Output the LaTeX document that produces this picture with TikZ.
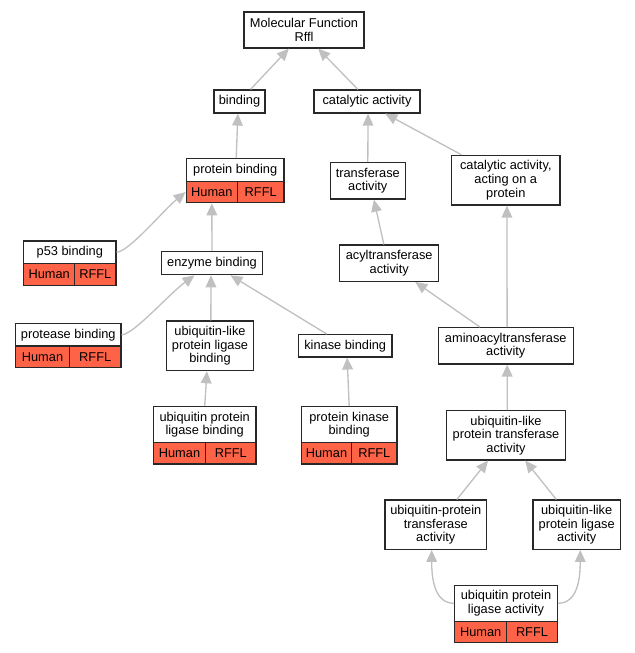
\documentclass[tikz,border=0pt]{standalone}
\usepackage{fontspec}
\setmainfont{Liberation Sans}
\usetikzlibrary{arrows.meta,calc}
\definecolor{edgegray}{RGB}{192,192,192}
\definecolor{cellred}{RGB}{255,99,71}
\definecolor{boxline}{RGB}{40,40,40}
\begin{document}
\begin{tikzpicture}[x=0.75pt,y=-0.75pt,
  bx/.style 2 args={draw=boxline, line width=0.9pt, fill=white, inner sep=0pt, align=center,
    minimum width=#1*0.75pt, minimum height=#2*0.75pt, font=\fontsize{9.6}{10.2}\selectfont},
  cell/.style 2 args={bx={#1}{#2}, fill=cellred},
  edge/.style={draw=edgegray, line width=1pt, -{Triangle[length=9pt,width=8pt]}}]
\useasboundingbox (0,0) rectangle (635,653);
% nodes
\node[bx={120}{36}] (mf) at (304,30) {Molecular Function\\Rffl};
\node[bx={51}{23}] (bind) at (239.5,101.5) {binding};
\node[bx={106}{23}] (cat) at (367,101.5) {catalytic activity};
\node[bx={97.7}{22.6}] (pb) at (235.2,170) {protein binding};
\node[cell={51}{21.4}] (pbh) at (211.8,192) {Human};
\node[cell={46.7}{21.4}] (pbr) at (260.7,192) {RFFL};
\node[bx={75}{36.7}] (tr) at (367.8,180.7) {transferase\\activity};
\node[bx={108.3}{49.7}] (cap) at (505.8,180.2) {catalytic activity,\\acting on a\\protein};
\node[bx={92.3}{22.3}] (p53) at (69.8,252.2) {p53 binding};
\node[cell={51}{22}] (p53h) at (49.2,274.3) {Human};
\node[cell={41.3}{22}] (p53r) at (95.3,274.3) {RFFL};
\node[bx={101.4}{23}] (enz) at (212,263.2) {enzyme binding};
\node[bx={99}{36.3}] (acyl) at (389.2,263.2) {acyltransferase\\activity};
\node[bx={105.3}{22.3}] (prot) at (68.3,334.8) {protease binding};
\node[cell={53.6}{21.7}] (proth) at (42.5,356.8) {Human};
\node[cell={51.7}{21.7}] (protr) at (95.2,356.8) {RFFL};
\node[bx={86.6}{49.7}] (ublb) at (210,345.8) {ubiquitin-like\\protein ligase\\binding};
\node[bx={93.7}{22.3}] (kin) at (345.2,345.8) {kinase binding};
\node[bx={102.7}{35.6}] (uplb) at (204.7,424.5) {ubiquitin protein\\ligase binding};
\node[cell={52.4}{21.7}] (uplbh) at (179.5,453.2) {Human};
\node[cell={50.3}{21.7}] (uplbr) at (230.8,453.2) {RFFL};
\node[bx={95.7}{35.6}] (pkb) at (349.2,424.5) {protein kinase\\binding};
\node[cell={50.4}{21.7}] (pkbh) at (326.5,453.2) {Human};
\node[cell={45.3}{21.7}] (pkbr) at (374.3,453.2) {RFFL};
\node[bx={135}{36.3}] (amino) at (505.8,345.8) {aminoacyltransferase\\activity};
\node[bx={118.6}{49.3}] (ublt) at (506,435.3) {ubiquitin-like\\protein transferase\\activity};
\node[bx={101.7}{49.3}] (upt) at (435.8,524.7) {ubiquitin-protein\\transferase\\activity};
\node[bx={87.3}{49.3}] (ubla) at (576.7,524.7) {ubiquitin-like\\protein ligase\\activity};
\node[bx={102.6}{36}] (upla) at (506,603.3) {ubiquitin protein\\ligase activity};
\node[cell={52}{21.4}] (uplah) at (480.7,632) {Human};
\node[cell={50.6}{21.4}] (uplar) at (532,632) {RFFL};
% edges
\draw[edge] ($(bind.north west)!0.71!(bind.north east)$) -- ($(mf.south west)!0.375!(mf.south east)$);
\draw[edge] ($(cat.north west)!0.415!(cat.north east)$) -- ($(mf.south west)!0.617!(mf.south east)$);
\draw[edge] ($(pb.north west)!0.51!(pb.north east)$) -- ($(bind.south west)!0.47!(bind.south east)$);
\draw[edge] ($(tr.north west)!0.5!(tr.north east)$) -- ($(cat.south west)!0.51!(cat.south east)$);
\draw[edge] ($(cap.north west)!0.095!(cap.north east)$) -- ($(cat.south west)!0.67!(cat.south east)$);
\draw[edge] (p53.east) .. controls +(12,0) and +(-22,18) .. (pbh.west);
\draw[edge] (enz.north) -- (pbh.south);
\draw[edge] (prot.east) .. controls +(12,0) and +(-26,19) .. ($(enz.south west)!0.33!(enz.south east)$);
\draw[edge] ($(ublb.north west)!0.51!(ublb.north east)$) -- ($(enz.south west)!0.49!(enz.south east)$);
\draw[edge] ($(kin.north west)!0.306!(kin.north east)$) -- ($(enz.south west)!0.68!(enz.south east)$);
\draw[edge] ($(uplb.north west)!0.5!(uplb.north east)$) -- ($(ublb.south west)!0.465!(ublb.south east)$);
\draw[edge] ($(pkb.north west)!0.5!(pkb.north east)$) -- ($(kin.south west)!0.52!(kin.south east)$);
\draw[edge] ($(acyl.north west)!0.447!(acyl.north east)$) -- ($(tr.south west)!0.58!(tr.south east)$);
\draw[edge] ($(amino.north west)!0.31!(amino.north east)$) -- ($(acyl.south west)!0.76!(acyl.south east)$);
\draw[edge] ($(amino.north west)!0.51!(amino.north east)$) -- ($(cap.south west)!0.51!(cap.south east)$);
\draw[edge] ($(ublt.north west)!0.51!(ublt.north east)$) -- ($(amino.south west)!0.51!(amino.south east)$);
\draw[edge] ($(upt.north west)!0.705!(upt.north east)$) -- ($(ublt.south west)!0.35!(ublt.south east)$);
\draw[edge] ($(ubla.north west)!0.27!(ubla.north east)$) -- ($(ublt.south west)!0.66!(ublt.south east)$);
\draw[edge] (upla.west) .. controls +(-20,0) and +(0,28) .. ($(upt.south west)!0.46!(upt.south east)$);
\draw[edge] (upla.east) .. controls +(20,0) and +(0,28) .. ($(ubla.south west)!0.54!(ubla.south east)$);
\end{tikzpicture}
\end{document}
